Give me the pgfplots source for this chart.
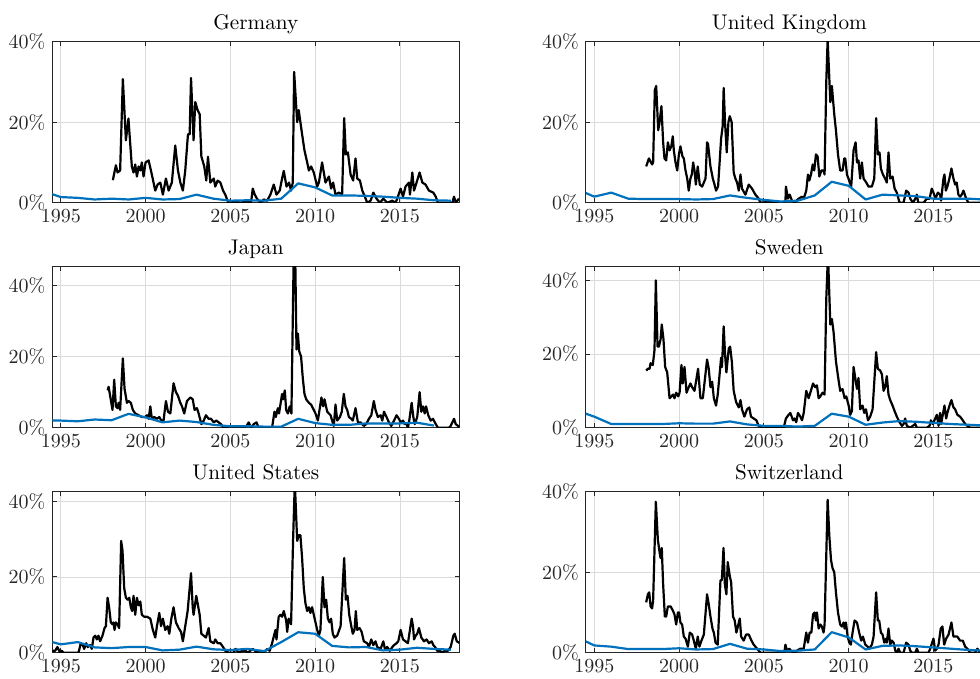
\documentclass[border=0pt]{standalone}
\usepackage{pgfplots}
\pgfplotsset{compat=1.18}
\definecolor{mblue}{RGB}{0,114,189}
\definecolor{axgray}{RGB}{38,38,38}

\pgfplotsset{
  panel/.style={
    scale only axis, width=203.5pt, height=80.5pt,
    anchor=south west,
    xmin=1994.5, xmax=2018.5, ymin=0,
    xtick={1995,2000,...,2015},
    ytick={0,20,40},
    yticklabel={$\pgfmathprintnumber{\tick}\%$},
    xticklabel style={/pgf/number format/1000 sep={}},
    grid=major, grid style={line width=0.4pt, draw=black!14},
    major tick length=2.2pt,
    tick style={line width=0.5pt, draw=axgray},
    axis line style={line width=0.5pt, draw=axgray},
    tick label style={font=\normalsize, text=axgray},
    title style={at={(0.5,1)}, anchor=base, font=\fontsize{10.6}{12.7}\selectfont, text=black},
  },
  vol/.style={black, line width=1.1pt, line join=round},
  mod/.style={mblue, line width=1.1pt, line join=round},
}

\begin{document}
\begin{tikzpicture}

% ---------------- Germany ----------------
\begin{axis}[panel, at={(26.15pt,238.15pt)}, ymax=40, title={Germany}]
\addplot[vol] coordinates {(1998.07,5.6)(1998.25,9.3)(1998.35,7.5)(1998.50,8.0)(1998.66,30.7)(1998.84,15.5)(1998.99,20.9)(1999.19,9.0)(1999.29,7.5)(1999.39,9.5)(1999.49,6.5)(1999.59,9.0)(1999.69,8.0)(1999.78,10.0)(1999.88,6.5)(2000.00,10.0)(2000.18,10.5)(2000.37,7.0)(2000.57,3.0)(2000.71,4.5)(2000.87,5.0)(2001.02,2.0)(2001.20,6.0)(2001.36,3.0)(2001.55,5.0)(2001.75,14.2)(2001.91,8.0)(2002.05,5.0)(2002.20,3.0)(2002.34,8.0)(2002.50,17.0)(2002.60,17.0)(2002.68,31.0)(2002.83,15.5)(2002.93,25.0)(2003.07,23.0)(2003.19,22.0)(2003.29,11.5)(2003.46,9.0)(2003.58,5.5)(2003.68,11.4)(2003.82,5.0)(2004.02,6.0)(2004.11,4.0)(2004.25,5.5)(2004.41,5.0)(2004.57,3.0)(2004.70,2.0)(2004.88,0.0)(2005.20,0.3)(2005.59,0.0)(2005.98,0.3)(2006.22,0.0)(2006.32,3.5)(2006.44,2.0)(2006.57,1.0)(2006.77,0.0)(2006.97,0.8)(2007.17,0.5)(2007.36,2.0)(2007.56,4.5)(2007.72,2.0)(2007.91,3.0)(2008.05,6.0)(2008.15,7.9)(2008.31,4.0)(2008.46,5.0)(2008.58,3.0)(2008.68,5.0)(2008.76,32.5)(2008.94,20.0)(2009.03,23.0)(2009.13,20.0)(2009.23,17.0)(2009.37,13.0)(2009.53,10.0)(2009.63,8.0)(2009.76,9.0)(2009.92,7.5)(2010.12,4.0)(2010.22,5.0)(2010.41,10.0)(2010.61,5.0)(2010.81,6.5)(2010.94,3.5)(2011.06,5.0)(2011.20,2.0)(2011.40,2.5)(2011.59,2.0)(2011.71,21.0)(2011.81,12.0)(2011.93,12.5)(2012.09,7.0)(2012.24,5.5)(2012.38,11.0)(2012.48,6.0)(2012.64,5.5)(2012.78,3.0)(2012.93,1.5)(2013.07,0.0)(2013.27,0.5)(2013.43,2.5)(2013.62,1.0)(2013.82,0.0)(2014.02,1.0)(2014.25,0.0)(2014.55,0.5)(2014.74,0.0)(2014.84,1.0)(2015.04,3.5)(2015.18,1.5)(2015.33,4.0)(2015.53,5.0)(2015.59,2.0)(2015.73,7.5)(2015.83,3.0)(2015.98,5.0)(2016.16,7.5)(2016.32,5.0)(2016.51,4.5)(2016.71,3.0)(2016.97,2.5)(2017.11,1.5)(2017.24,0.0)(2017.80,0.0)(2018.09,0.0)(2018.19,1.5)(2018.29,0.0)(2018.48,1.0)};
\addplot[mod] coordinates {(1994,2.8)(1995,1.4)(1996,1.2)(1997,0.8)(1998,1.0)(1999,0.8)(2000,1.2)(2001,0.8)(2002,0.9)(2003,2.0)(2004,1.0)(2005,0.5)(2006,0.6)(2007,0.5)(2008,1.0)(2009,4.8)(2010,3.8)(2011,1.8)(2012,1.8)(2013,1.7)(2014,1.5)(2015,1.2)(2016,1.0)(2017,0.6)(2018,0.5)};
\end{axis}

% ---------------- United Kingdom ----------------
\begin{axis}[panel, at={(292.9pt,238.15pt)}, ymax=40, title={United Kingdom}]
\addplot[vol] coordinates {(1998.06,9.0)(1998.22,11.0)(1998.41,9.5)(1998.47,10.0)(1998.57,28.0)(1998.65,29.0)(1998.77,18.0)(1998.85,20.0)(1998.96,24.0)(1999.06,15.0)(1999.14,11.0)(1999.24,10.5)(1999.34,15.0)(1999.44,13.0)(1999.54,14.0)(1999.63,16.5)(1999.69,13.0)(1999.79,10.0)(1999.89,8.0)(1999.99,12.0)(2000.08,14.0)(2000.20,11.5)(2000.28,11.0)(2000.38,8.0)(2000.48,6.0)(2000.57,3.0)(2000.67,6.0)(2000.75,7.0)(2000.83,10.0)(2000.91,8.0)(2000.99,4.5)(2001.10,9.0)(2001.22,4.5)(2001.36,4.0)(2001.46,5.0)(2001.56,6.0)(2001.65,15.0)(2001.71,14.5)(2001.85,9.0)(2001.99,6.0)(2002.09,4.5)(2002.18,3.0)(2002.30,4.0)(2002.48,16.0)(2002.57,19.0)(2002.63,28.5)(2002.71,20.0)(2002.81,12.5)(2002.91,20.0)(2002.99,21.5)(2003.10,20.0)(2003.22,7.5)(2003.32,6.0)(2003.42,5.0)(2003.52,3.0)(2003.62,7.0)(2003.71,3.5)(2003.91,2.0)(2004.11,4.5)(2004.30,3.5)(2004.50,2.0)(2004.70,1.0)(2004.79,0.0)(2005.38,0.2)(2005.77,0.0)(2006.27,0.0)(2006.30,4.0)(2006.42,1.0)(2006.52,2.0)(2006.66,0.5)(2006.80,0.0)(2007.05,1.0)(2007.25,1.5)(2007.35,1.0)(2007.50,3.0)(2007.60,7.0)(2007.68,5.5)(2007.78,7.0)(2007.88,9.5)(2007.97,8.0)(2008.07,12.0)(2008.17,11.5)(2008.27,6.5)(2008.39,8.0)(2008.52,8.0)(2008.58,7.0)(2008.68,30.0)(2008.76,40.5)(2008.92,25.0)(2009.01,29.0)(2009.15,22.0)(2009.25,18.0)(2009.37,12.0)(2009.50,8.0)(2009.64,8.0)(2009.74,11.0)(2009.80,11.0)(2009.90,7.0)(2010.03,5.5)(2010.15,4.0)(2010.29,13.0)(2010.41,15.0)(2010.49,10.0)(2010.58,10.5)(2010.68,6.0)(2010.78,10.0)(2010.88,6.0)(2011.04,5.0)(2011.17,4.0)(2011.37,4.0)(2011.51,6.0)(2011.62,21.0)(2011.72,12.0)(2011.82,12.5)(2011.90,8.5)(2012.02,7.0)(2012.15,6.0)(2012.25,5.0)(2012.35,12.5)(2012.45,6.0)(2012.59,6.5)(2012.71,3.5)(2012.84,2.5)(2013.00,0.0)(2013.24,0.0)(2013.39,3.0)(2013.53,2.5)(2013.63,1.0)(2013.79,0.0)(2013.93,1.0)(2014.02,2.0)(2014.10,0.0)(2014.42,0.0)(2014.61,1.0)(2014.77,1.0)(2014.90,3.5)(2015.00,2.5)(2015.12,1.0)(2015.26,2.5)(2015.39,2.0)(2015.45,0.5)(2015.59,6.0)(2015.65,7.0)(2015.73,3.0)(2015.82,4.0)(2015.94,6.0)(2016.06,8.5)(2016.18,6.0)(2016.28,4.5)(2016.37,5.0)(2016.47,2.0)(2016.57,1.5)(2016.67,2.0)(2016.77,3.0)(2016.93,1.0)(2017.06,0.0)(2017.95,0.0)(2018.45,0.0)};
\addplot[mod] coordinates {(1994,3.3)(1995,1.5)(1996,2.5)(1997,1.0)(1998,0.9)(1999,0.9)(2000,0.9)(2001,0.8)(2002,0.9)(2003,1.8)(2004,1.2)(2005,0.7)(2006,0.3)(2007,0.5)(2008,1.8)(2009,5.2)(2010,4.2)(2011,0.8)(2012,2.0)(2013,1.8)(2014,1.6)(2015,1.0)(2016,1.0)(2017,1.0)(2018,0.8)};
\end{axis}

% ---------------- Japan ----------------
\begin{axis}[panel, at={(26.15pt,125.65pt)}, ymax=45.3, title={Japan}]
\addplot[vol] coordinates {(1997.76,10.5)(1997.82,11.5)(1997.91,9.0)(1998.05,5.0)(1998.15,13.5)(1998.25,6.0)(1998.35,5.5)(1998.41,7.0)(1998.50,5.0)(1998.66,19.5)(1998.76,11.0)(1998.90,7.0)(1999.00,7.5)(1999.13,7.0)(1999.25,5.0)(1999.39,4.0)(1999.59,3.5)(1999.78,3.0)(1999.98,3.0)(2000.08,3.5)(2000.18,2.5)(2000.28,6.0)(2000.37,2.5)(2000.51,3.0)(2000.67,2.5)(2000.81,3.0)(2000.93,2.0)(2001.06,2.0)(2001.20,7.5)(2001.32,4.5)(2001.46,4.0)(2001.65,12.5)(2001.79,10.0)(2001.91,9.0)(2002.05,7.0)(2002.15,6.0)(2002.28,4.0)(2002.44,7.5)(2002.64,8.5)(2002.78,8.0)(2002.89,5.0)(2003.03,5.5)(2003.13,4.0)(2003.29,1.0)(2003.43,2.0)(2003.56,3.5)(2003.72,2.5)(2003.86,2.5)(2004.02,1.5)(2004.17,2.0)(2004.31,1.5)(2004.45,1.0)(2004.61,0.0)(2005.89,0.0)(2006.08,1.5)(2006.22,0.0)(2006.38,1.0)(2006.54,1.5)(2006.67,0.0)(2007.46,0.0)(2007.60,4.5)(2007.68,3.0)(2007.80,5.5)(2007.87,4.0)(2008.05,9.5)(2008.11,8.0)(2008.21,10.5)(2008.29,5.0)(2008.39,4.0)(2008.50,6.0)(2008.60,4.0)(2008.74,50.0)(2008.82,50.0)(2008.90,22.0)(2008.98,26.5)(2009.06,21.5)(2009.17,20.0)(2009.27,14.0)(2009.37,9.5)(2009.47,8.0)(2009.63,7.0)(2009.76,6.5)(2009.92,5.0)(2010.02,4.0)(2010.16,2.0)(2010.37,8.5)(2010.47,6.0)(2010.55,8.0)(2010.71,4.5)(2010.91,3.5)(2011.00,2.0)(2011.10,0.5)(2011.20,6.5)(2011.30,2.0)(2011.46,3.0)(2011.57,4.5)(2011.69,9.5)(2011.79,6.0)(2011.89,5.0)(2011.99,3.0)(2012.13,2.5)(2012.22,2.0)(2012.38,5.5)(2012.52,1.5)(2012.68,1.5)(2012.87,0.5)(2013.01,1.0)(2013.17,2.5)(2013.31,3.5)(2013.46,7.5)(2013.56,5.0)(2013.70,3.0)(2013.86,3.5)(2013.96,2.0)(2014.06,4.5)(2014.21,3.0)(2014.35,1.5)(2014.49,0.5)(2014.65,2.0)(2014.80,3.5)(2014.94,2.5)(2015.04,1.5)(2015.18,2.0)(2015.28,1.0)(2015.39,1.0)(2015.47,0.0)(2015.55,2.0)(2015.69,7.0)(2015.79,3.0)(2015.87,1.0)(2016.02,3.0)(2016.16,10.0)(2016.26,4.5)(2016.36,6.0)(2016.46,4.0)(2016.54,6.0)(2016.67,3.5)(2016.81,2.0)(2016.95,2.5)(2017.11,1.0)(2017.24,0.0)(2017.89,0.0)(2017.99,0.5)(2018.19,2.5)(2018.29,1.0)(2018.43,0.5)(2018.54,0.0)};
\addplot[mod] coordinates {(1994,2.0)(1995,2.0)(1996,1.8)(1997,2.3)(1998,2.1)(1999,3.9)(2000,2.9)(2001,1.5)(2002,2.0)(2003,1.6)(2004,0.8)(2005,0.4)(2006,0.4)(2007,0.3)(2008,0.3)(2009,2.5)(2010,1.3)(2011,0.8)(2012,0.8)(2013,1.2)(2014,1.2)(2015,1.2)(2016,1.4)(2017,0.6)};
\end{axis}

% ---------------- Sweden ----------------
\begin{axis}[panel, at={(292.9pt,125.65pt)}, ymax=43.7, title={Sweden}]
\addplot[vol] coordinates {(1998.06,15.5)(1998.16,16.0)(1998.26,16.0)(1998.32,17.5)(1998.45,17.0)(1998.55,21.0)(1998.63,40.0)(1998.73,22.0)(1998.81,22.0)(1998.91,24.0)(1998.98,28.0)(1999.08,24.0)(1999.18,16.5)(1999.30,15.0)(1999.44,8.0)(1999.55,8.5)(1999.65,9.0)(1999.73,8.0)(1999.83,9.5)(1999.95,8.5)(2000.03,9.5)(2000.14,17.0)(2000.22,12.0)(2000.32,16.5)(2000.44,9.5)(2000.57,11.0)(2000.67,12.0)(2000.77,11.0)(2000.91,10.0)(2001.12,16.0)(2001.26,8.0)(2001.40,8.0)(2001.65,18.5)(2001.75,16.0)(2001.85,11.0)(2001.95,12.5)(2002.05,8.0)(2002.18,6.0)(2002.28,9.0)(2002.40,15.0)(2002.48,19.0)(2002.53,16.5)(2002.63,27.5)(2002.71,20.0)(2002.79,15.0)(2002.93,21.5)(2003.01,22.0)(2003.11,18.0)(2003.22,10.0)(2003.36,7.0)(2003.52,5.5)(2003.62,7.5)(2003.71,5.0)(2003.85,3.0)(2004.01,5.0)(2004.14,5.5)(2004.24,3.0)(2004.40,2.5)(2004.56,2.0)(2004.69,0.5)(2004.89,0.0)(2006.17,0.0)(2006.30,2.5)(2006.46,3.5)(2006.56,4.0)(2006.72,2.0)(2006.81,2.5)(2006.91,1.5)(2007.01,4.0)(2007.15,3.0)(2007.25,2.0)(2007.35,4.0)(2007.50,10.0)(2007.64,8.0)(2007.74,9.5)(2007.90,12.0)(2008.03,11.0)(2008.13,11.5)(2008.23,8.0)(2008.33,8.5)(2008.46,9.5)(2008.58,9.0)(2008.68,35.0)(2008.78,47.0)(2008.92,28.0)(2009.01,29.5)(2009.11,26.0)(2009.25,18.0)(2009.37,14.0)(2009.50,10.0)(2009.64,10.5)(2009.76,8.0)(2009.86,8.5)(2010.00,6.0)(2010.09,3.5)(2010.19,4.5)(2010.29,16.5)(2010.39,13.5)(2010.49,10.5)(2010.58,13.5)(2010.68,5.0)(2010.82,6.0)(2010.92,4.0)(2011.02,5.0)(2011.14,2.0)(2011.27,3.0)(2011.41,5.0)(2011.62,20.5)(2011.72,16.0)(2011.86,15.5)(2011.96,14.5)(2012.06,10.0)(2012.15,11.0)(2012.25,14.0)(2012.35,9.0)(2012.45,7.5)(2012.59,6.0)(2012.71,4.5)(2012.84,3.0)(2013.00,1.5)(2013.14,0.5)(2013.24,1.0)(2013.33,2.5)(2013.43,0.5)(2013.63,0.0)(2013.93,1.0)(2014.02,0.0)(2014.61,0.0)(2014.77,0.5)(2014.85,2.0)(2014.96,1.0)(2015.20,3.5)(2015.30,0.5)(2015.39,4.0)(2015.45,1.0)(2015.65,6.0)(2015.75,2.5)(2015.82,4.0)(2015.98,6.5)(2016.06,7.5)(2016.18,5.5)(2016.28,5.0)(2016.41,3.5)(2016.57,3.0)(2016.73,2.0)(2016.87,1.0)(2017.00,0.5)(2017.16,0.0)(2018.45,0.0)};
\addplot[mod] coordinates {(1994,4.6)(1995,3.0)(1996,1.0)(1997,1.0)(1998,1.0)(1999,1.0)(2000,1.2)(2001,1.1)(2002,1.1)(2003,1.7)(2004,0.9)(2005,0.5)(2006,0.5)(2007,0.3)(2008,0.5)(2009,3.8)(2010,3.0)(2011,0.8)(2012,1.4)(2013,1.8)(2014,1.6)(2015,1.3)(2016,1.0)(2017,0.8)(2018,0.6)};
\end{axis}

% ---------------- United States ----------------
\begin{axis}[panel, at={(26.15pt,13.15pt)}, ymax=42.5, title={United States}]
\addplot[vol] coordinates {(1994.51,0.5)(1994.67,0.5)(1994.80,1.5)(1994.96,0.0)(1995.06,0.5)(1995.16,0.0)(1996.04,0.0)(1996.10,1.0)(1996.18,2.5)(1996.30,2.0)(1996.38,1.0)(1996.50,2.5)(1996.59,1.5)(1996.73,2.0)(1996.83,1.0)(1996.93,4.0)(1997.03,4.5)(1997.13,3.5)(1997.22,4.5)(1997.32,3.0)(1997.46,4.5)(1997.58,6.5)(1997.66,7.0)(1997.76,14.5)(1997.85,12.0)(1997.95,8.0)(1998.05,7.5)(1998.11,8.0)(1998.17,6.0)(1998.25,8.0)(1998.35,7.5)(1998.44,6.5)(1998.56,29.5)(1998.64,27.0)(1998.74,17.0)(1998.84,14.5)(1998.94,14.0)(1999.04,14.5)(1999.13,12.0)(1999.21,11.0)(1999.29,15.0)(1999.39,10.0)(1999.49,14.5)(1999.59,12.5)(1999.69,13.5)(1999.78,10.0)(1999.92,9.5)(2000.08,9.5)(2000.28,9.0)(2000.43,6.0)(2000.57,4.0)(2000.67,7.0)(2000.81,10.5)(2000.91,7.0)(2001.02,9.0)(2001.16,6.0)(2001.30,7.0)(2001.40,5.0)(2001.52,9.0)(2001.65,12.0)(2001.79,8.0)(2001.95,6.5)(2002.09,5.5)(2002.20,3.0)(2002.34,7.0)(2002.48,11.0)(2002.68,21.0)(2002.78,12.0)(2002.83,10.0)(2002.99,15.0)(2003.09,12.5)(2003.19,10.0)(2003.29,5.0)(2003.43,4.5)(2003.56,4.0)(2003.72,6.5)(2003.82,3.0)(2004.02,2.5)(2004.11,3.5)(2004.25,2.5)(2004.41,2.5)(2004.57,1.5)(2004.70,0.5)(2004.90,0.0)(2005.20,0.0)(2005.30,1.0)(2005.49,0.0)(2005.69,0.5)(2005.89,0.5)(2006.02,0.0)(2006.32,1.0)(2006.57,0.0)(2006.77,0.5)(2006.97,0.0)(2007.17,1.0)(2007.32,0.5)(2007.46,2.5)(2007.66,6.0)(2007.72,3.5)(2007.85,9.5)(2007.95,10.0)(2008.05,9.5)(2008.15,11.0)(2008.29,8.5)(2008.35,5.5)(2008.44,9.0)(2008.58,7.5)(2008.70,30.0)(2008.80,45.0)(2008.94,29.5)(2009.03,31.0)(2009.13,31.0)(2009.23,25.0)(2009.33,17.0)(2009.43,13.0)(2009.53,11.0)(2009.63,12.0)(2009.72,10.5)(2009.82,12.0)(2009.92,10.0)(2010.02,8.0)(2010.12,6.0)(2010.22,4.5)(2010.31,6.0)(2010.45,20.0)(2010.55,12.0)(2010.65,14.0)(2010.75,9.0)(2010.85,8.0)(2010.94,9.0)(2011.04,5.0)(2011.14,4.0)(2011.30,4.5)(2011.50,7.0)(2011.71,25.0)(2011.81,14.0)(2011.91,15.0)(2012.01,10.0)(2012.13,7.0)(2012.22,5.0)(2012.32,6.0)(2012.40,11.0)(2012.48,6.0)(2012.62,6.5)(2012.74,5.5)(2012.87,3.0)(2013.07,2.5)(2013.17,1.5)(2013.31,3.5)(2013.43,2.0)(2013.56,3.0)(2013.66,1.5)(2013.86,1.0)(2014.02,3.0)(2014.11,1.0)(2014.25,1.5)(2014.41,0.5)(2014.55,1.5)(2014.65,2.0)(2014.80,2.5)(2014.90,3.0)(2015.04,6.0)(2015.18,3.5)(2015.33,3.0)(2015.47,2.5)(2015.69,9.0)(2015.77,7.0)(2015.83,3.5)(2015.93,4.5)(2016.02,5.0)(2016.12,6.5)(2016.26,4.0)(2016.42,3.0)(2016.57,3.5)(2016.71,2.5)(2016.87,3.0)(2016.97,2.0)(2017.07,1.5)(2017.20,0.5)(2017.36,0.5)(2017.50,0.0)(2017.64,0.5)(2017.83,0.5)(2017.99,1.5)(2018.15,4.5)(2018.23,5.0)(2018.35,3.0)(2018.54,2.5)};
\addplot[mod] coordinates {(1994,3.4)(1995,2.2)(1996,2.8)(1997,1.4)(1998,1.2)(1999,1.5)(2000,1.5)(2001,0.6)(2002,0.8)(2003,1.6)(2004,0.9)(2005,0.7)(2006,1.0)(2007,0.4)(2008,2.8)(2009,5.4)(2010,5.0)(2011,1.8)(2012,1.4)(2013,1.5)(2014,0.6)(2015,0.8)(2016,1.3)(2017,1.0)(2018,0.8)};
\end{axis}

% ---------------- Switzerland ----------------
\begin{axis}[panel, at={(292.9pt,13.15pt)}, ymax=40, title={Switzerland}]
\addplot[vol] coordinates {(1998.06,12.5)(1998.16,14.5)(1998.24,15.0)(1998.32,11.5)(1998.41,11.0)(1998.47,13.0)(1998.63,37.5)(1998.75,28.0)(1998.85,25.0)(1998.91,23.5)(1998.98,26.0)(1999.06,17.0)(1999.16,9.0)(1999.24,9.0)(1999.34,11.5)(1999.50,11.5)(1999.63,10.5)(1999.73,9.5)(1999.83,7.0)(1999.93,10.0)(2000.00,10.0)(2000.08,7.5)(2000.18,7.0)(2000.28,4.0)(2000.38,3.5)(2000.52,1.5)(2000.63,5.0)(2000.77,4.5)(2000.87,3.0)(2000.99,1.0)(2001.10,4.0)(2001.20,1.5)(2001.32,3.0)(2001.46,4.5)(2001.65,14.5)(2001.75,12.0)(2001.85,9.0)(2001.97,6.0)(2002.05,5.0)(2002.15,2.5)(2002.28,2.0)(2002.44,18.0)(2002.52,18.0)(2002.62,26.0)(2002.70,17.0)(2002.79,14.5)(2002.87,22.5)(2002.99,19.0)(2003.07,17.5)(2003.18,9.0)(2003.28,8.0)(2003.38,5.0)(2003.58,8.5)(2003.66,4.0)(2003.81,3.0)(2003.95,4.5)(2004.11,4.5)(2004.27,3.0)(2004.40,2.0)(2004.60,1.0)(2004.79,0.0)(2006.21,0.0)(2006.27,2.0)(2006.36,0.5)(2006.50,1.0)(2006.60,0.5)(2006.76,0.0)(2006.95,0.5)(2007.15,1.0)(2007.35,1.0)(2007.50,5.0)(2007.60,2.5)(2007.70,5.0)(2007.80,5.0)(2007.90,9.5)(2007.99,10.0)(2008.07,8.0)(2008.13,10.0)(2008.23,6.0)(2008.33,7.0)(2008.42,6.5)(2008.52,5.0)(2008.58,7.0)(2008.76,38.0)(2008.86,29.0)(2008.96,23.0)(2009.05,21.0)(2009.15,20.0)(2009.25,15.0)(2009.37,10.0)(2009.50,7.0)(2009.60,6.5)(2009.70,7.5)(2009.76,6.0)(2009.84,7.5)(2009.94,4.0)(2010.04,2.5)(2010.13,2.0)(2010.23,5.0)(2010.35,8.0)(2010.49,7.5)(2010.62,5.0)(2010.74,3.0)(2010.84,4.0)(2010.98,2.0)(2011.12,1.5)(2011.21,1.0)(2011.37,2.0)(2011.47,4.0)(2011.62,15.0)(2011.72,8.0)(2011.80,8.0)(2011.90,5.0)(2012.00,4.5)(2012.10,2.5)(2012.21,3.5)(2012.25,2.5)(2012.35,6.0)(2012.45,2.0)(2012.55,3.0)(2012.65,2.5)(2012.75,0.5)(2012.84,0.0)(2012.94,1.0)(2013.04,0.0)(2013.24,0.0)(2013.39,2.5)(2013.53,2.0)(2013.63,0.5)(2013.73,0.0)(2013.93,0.0)(2014.02,1.0)(2014.12,0.0)(2014.71,0.0)(2014.81,1.0)(2015.00,3.5)(2015.10,0.5)(2015.20,1.0)(2015.30,2.0)(2015.43,6.0)(2015.53,6.5)(2015.63,2.0)(2015.75,3.5)(2015.89,4.5)(2016.06,7.5)(2016.18,4.0)(2016.28,4.0)(2016.41,4.0)(2016.57,3.0)(2016.73,3.0)(2016.87,1.5)(2017.00,1.0)(2017.16,0.0)(2017.45,0.0)(2017.59,1.0)(2017.75,0.0)(2018.45,0.0)};
\addplot[mod] coordinates {(1994,3.8)(1995,1.8)(1996,1.5)(1997,0.9)(1998,0.9)(1999,0.9)(2000,1.1)(2001,0.8)(2002,0.9)(2003,2.2)(2004,1.0)(2005,0.8)(2006,0.4)(2007,0.5)(2008,0.8)(2009,5.1)(2010,3.8)(2011,0.8)(2012,1.7)(2013,1.8)(2014,1.6)(2015,1.3)(2016,1.0)(2017,0.7)(2018,0.5)};
\end{axis}

\pgfresetboundingbox
\path (0pt,0pt) rectangle (490pt,339.5pt);
\end{tikzpicture}
\end{document}
